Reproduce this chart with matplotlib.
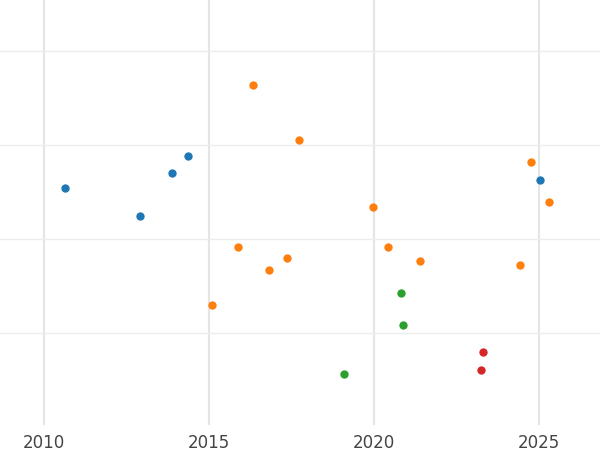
import matplotlib
matplotlib.use("Agg")
import matplotlib.pyplot as plt

blue_x = [2010.64, 2012.91, 2013.88, 2014.36, 2025.03]
blue_y = [2.54, 2.24, 2.70, 2.88, 2.63]
orange_x = [2016.33, 2017.73, 2015.88, 2016.82, 2017.36, 2015.09, 2019.97, 2020.42, 2021.39, 2024.76, 2025.30, 2024.42]
orange_y = [3.64, 3.05, 1.91, 1.67, 1.80, 1.30, 2.34, 1.91, 1.77, 2.82, 2.39, 1.72]
green_x = [2020.82, 2020.88, 2019.09]
green_y = [1.43, 1.09, 0.57]
red_x = [2023.30, 2023.24]
red_y = [0.80, 0.61]
xticks = [2010, 2015, 2020, 2025]
yticks = [1, 2, 3, 4]

fig = plt.figure(figsize=(6, 4.5), dpi=100)
ax = fig.add_axes([0, 0.055, 1, 0.945])
for xs, ys, c in [(blue_x, blue_y, "#1f77b4"), (orange_x, orange_y, "#ff7f0e"),
                  (green_x, green_y, "#2ca02c"), (red_x, red_y, "#d62728")]:
    ax.scatter(xs, ys, s=36, color=c, zorder=3, linewidths=0)
ax.set_xlim(2008.67, 2026.85)
ax.set_ylim(0.02, 4.54)
ax.set_xticks(xticks)
ax.set_xticklabels([str(t) for t in xticks])
ax.set_yticks(yticks)
ax.set_yticklabels([])
ax.tick_params(axis="both", length=0, labelsize=12, labelcolor="#444444", pad=6)
ax.tick_params(axis="y", left=False, labelleft=False)
ax.grid(axis="x", color="#e5e5e5", linewidth=1.5)
ax.grid(axis="y", color="#ececec", linewidth=1)
for s in ax.spines.values():
    s.set_visible(False)
fig.savefig("out.png", dpi=100)
